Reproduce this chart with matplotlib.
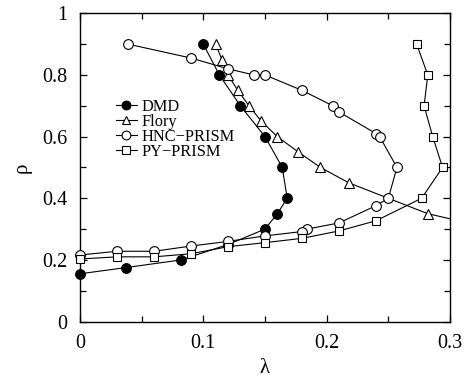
## plot.py : rho vs lambda, DMD / Flory / PRISM
import numpy as np
import matplotlib.pyplot as plt
from matplotlib.ticker import MultipleLocator, FormatStrFormatter

plt.rcParams['font.family'] = ['Liberation Serif', 'DejaVu Serif']

#%% DATA
dmd_x = [0.100, 0.113, 0.130, 0.150, 0.164, 0.168, 0.160, 0.150, 0.120, 0.082, 0.037, 0.000]
dmd_y = [0.900, 0.800, 0.700, 0.600, 0.500, 0.400, 0.350, 0.300, 0.250, 0.200, 0.175, 0.155]

flory_x = [0.110, 0.115, 0.120, 0.128, 0.137, 0.147, 0.160, 0.177, 0.195, 0.218, 0.282, 0.320]
flory_y = [0.900, 0.850, 0.800, 0.750, 0.700, 0.650, 0.600, 0.550, 0.500, 0.450, 0.350, 0.315]

hnc_x = [0.039, 0.090, 0.120, 0.141, 0.150, 0.180, 0.205, 0.210, 0.240, 0.243, 0.257,
         0.250, 0.240, 0.210, 0.184, 0.180, 0.150, 0.120, 0.090, 0.060, 0.030, 0.000]
hnc_y = [0.900, 0.855, 0.820, 0.800, 0.800, 0.750, 0.700, 0.680, 0.610, 0.600, 0.500,
         0.400, 0.376, 0.320, 0.300, 0.292, 0.278, 0.260, 0.245, 0.228, 0.228, 0.216]

py_x = [0.273, 0.282, 0.279, 0.286, 0.294, 0.277, 0.240, 0.210, 0.180, 0.150, 0.120,
        0.090, 0.060, 0.030, 0.000]
py_y = [0.900, 0.800, 0.700, 0.600, 0.500, 0.400, 0.327, 0.294, 0.270, 0.256, 0.243,
        0.220, 0.210, 0.210, 0.203]

#%% FIGURE
fig = plt.figure(figsize=(4.68, 3.81), dpi=100)
ax = fig.add_axes([0.171, 0.156, 0.7905, 0.809])

series = [(dmd_x, dmd_y, 'o', 'k', 'DMD'),
          (flory_x, flory_y, '^', 'w', 'Flory'),
          (hnc_x, hnc_y, 'o', 'w', 'HNC\u2212PRISM'),
          (py_x, py_y, 's', 'w', 'PY\u2212PRISM')]

for x, y, m, fc, lab in series:
    x = np.array(x)
    y = np.array(y)
    ax.plot(x, y, '-', color='k', lw=0.8, zorder=2)
    inside = x <= 0.3
    ms = 6.2 if m == 's' else 7
    ax.plot(x[inside], y[inside], ls='none', marker=m, ms=ms, mfc=fc, mec='k',
            mew=0.8, clip_on=False, zorder=3)
    # legend entry
    ax.plot([], [], '-', color='k', lw=0.8, marker=m, ms=ms * 0.9, mfc=fc,
            mec='k', mew=0.8, label=lab)

ax.set_xlim(0, 0.3)
ax.set_ylim(0, 1)
ax.xaxis.set_major_locator(MultipleLocator(0.1))
ax.xaxis.set_minor_locator(MultipleLocator(0.05))
ax.yaxis.set_major_locator(MultipleLocator(0.2))
ax.yaxis.set_minor_locator(MultipleLocator(0.1))
ax.xaxis.set_major_formatter(FormatStrFormatter('%g'))
ax.yaxis.set_major_formatter(FormatStrFormatter('%g'))
ax.tick_params(which='both', direction='in', top=True, right=True, labelsize=14.5, width=0.9)
ax.tick_params(which='major', length=5, pad=9)
ax.tick_params(which='minor', length=4)
for s in ax.spines.values():
    s.set_linewidth(1.0)

ax.set_xlabel('\u03bb', fontsize=15, labelpad=4)
ax.set_ylabel('\u03c1', fontsize=15, labelpad=8)

ax.legend(loc='upper left', bbox_to_anchor=(0.096, 0.722), frameon=False, fontsize=11.8,
          handlelength=1.3, handletextpad=0.3, labelspacing=-0.06, borderpad=0,
          borderaxespad=0)

plt.savefig('out.png', dpi=100)
